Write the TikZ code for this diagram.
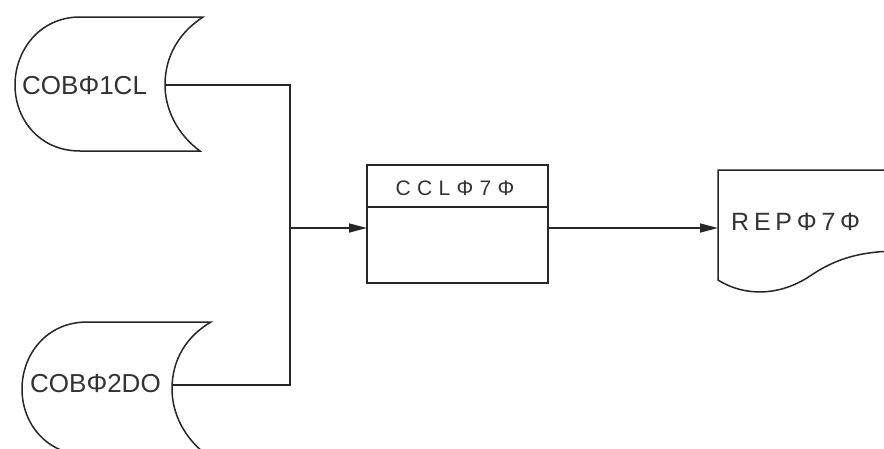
\documentclass[tikz,border=0pt]{standalone}
\usepackage{fontspec}
\setmainfont{Liberation Sans}
\usetikzlibrary{arrows.meta}
\begin{document}
\begin{tikzpicture}[x=1pt,y=-1pt,
  ln/.style={line width=1.5pt,draw=black!85},
  lab/.style={text=black!80,inner sep=0pt,anchor=west},
  arr/.style={ln,-{Triangle[length=18pt,width=9pt]}}]
\clip (0,0) rectangle (884,448);
% storage 1
\draw[ln] (203,17) -- (80,17) .. controls (40,17) and (15,50) .. (15,85)
  .. controls (15,120) and (40,151) .. (80,151) -- (200,151)
  .. controls (178,135) and (165,110) .. (165,85)
  .. controls (165,55) and (180,32) .. (203,17) -- cycle;
\node[lab,font=\fontsize{26}{26}\selectfont] (s1) at (22,86) {COBΦ1CL};
\coordinate (s1e) at (166,85);
% storage 2
\begin{scope}[shift={(7,304)}]
\draw[ln] (204,18) -- (80,18) .. controls (40,18) and (15,50) .. (15,85)
  .. controls (15,120) and (40,151) .. (80,151) -- (200,151)
  .. controls (178,135) and (165,110) .. (165,85)
  .. controls (165,55) and (180,32) .. (204,18) -- cycle;
\node[lab,font=\fontsize{26}{26}\selectfont] (s2) at (23,80) {COBΦ2DO};
\coordinate (s2e) at (166,81);
\end{scope}
% junction
\coordinate (j1) at (290,85);
\coordinate (j2) at (290,385);
\coordinate (jm) at (290,228);
% process box
\node[ln,draw,minimum width=181pt,minimum height=118pt,inner sep=0pt] (ccl) at (457.5,224) {};
\draw[ln] (367,207) -- (548,207);
\node[text=black!80,inner sep=0pt,font=\fontsize{21}{21}\selectfont\addfontfeature{LetterSpace=30}] (ccllab) at (455,188) {CCLΦ7Φ};
\coordinate (cin) at (367,228);
\coordinate (cout) at (548,228);
% document
\draw[ln] (900,170) -- (718,170) -- (718,280)
  .. controls (745,297) and (780,296) .. (810,276)
  .. controls (835,259) and (860,251) .. (900,251);
\node[lab,font=\fontsize{25}{25}\selectfont\addfontfeature{LetterSpace=19}] (rep) at (731,222) {REPΦ7Φ};
\coordinate (din) at (718,228);
% connectors
\draw[ln] (s1e) -- (j1) -- (j2) -- (s2e);
\draw[arr] (jm) -- (cin);
\draw[arr] (cout) -- (din);
\end{tikzpicture}
\end{document}
